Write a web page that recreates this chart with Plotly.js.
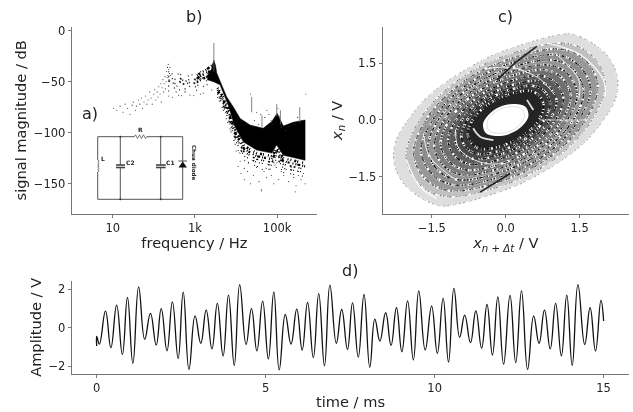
<!DOCTYPE html>
<html><head><meta charset="utf-8">
<script src="https://cdn.plot.ly/plotly-3.0.1.min.js"></script>
<style>html,body{margin:0;padding:0;background:#fff}#plot{width:633px;height:412px;filter:blur(0.45px)}</style>
</head><body><div id="plot"></div>
<script>
// ---- panel d: extrema
const timeMs = [0,0,0.08,0.26,0.42,0.59,0.76,0.91,1.07,1.24,1.42,1.59,1.76,1.91,2.08,2.24,2.41,2.56,2.73,2.91,3.08,3.24,3.41,3.57,3.74,3.90,4.07,4.23,4.42,4.58,4.74,4.91,5.08,5.24,5.40,5.58,5.75,5.92,6.08,6.24,6.41,6.57,6.74,6.90,7.09,7.25,7.42,7.57,7.74,7.91,8.08,8.23,8.38,8.55,8.71,8.87,9.03,9.20,9.37,9.53,9.72,9.91,10.08,10.25,10.41,10.57,10.74,10.89,11.06,11.22,11.39,11.55,11.71,11.87,12.04,12.23,12.40,12.57,12.75,12.93,13.09,13.25,13.42,13.58,13.75,13.91,14.07,14.24,14.44,14.60,14.76,14.92,15.0];
const amplitudeV = [-0.95,-0.45,-0.85,0.87,-1.04,1.18,-1.39,1.58,-1.85,2.13,-0.6,0.75,-0.9,1.0,-1.2,1.35,-1.6,1.85,-2.17,0.62,-0.81,0.92,-1.1,1.27,-1.47,1.7,-1.96,2.25,-0.87,1.0,-1.21,1.39,-1.63,1.87,-2.2,0.69,-0.85,0.97,-1.16,1.32,-1.56,1.78,-1.98,2.22,-0.81,0.95,-1.13,1.3,-1.53,1.73,-2.06,0.45,-0.69,0.78,-0.92,1.04,-1.25,1.4,-1.68,1.92,-1.16,1.13,-1.33,1.53,-1.79,2.05,-0.5,0.66,-0.78,0.88,-1.06,1.21,-1.42,1.61,-1.9,1.68,-1.82,1.92,-2.17,0.62,-0.81,0.92,-1.1,1.27,-1.47,1.7,-1.96,2.25,-0.87,1.04,-1.21,1.42,0.35];

// ---- panel b: solid band of the spectrum (log10 Hz, dB)
const bandLogF  = [3.3,3.4,3.46,3.5,3.53,3.77,3.93,4.1,4.34,4.66,4.87,5.0,5.15,5.39,5.68,5.68,5.15,4.99,4.87,4.5,4.18,3.97,3.81,3.61,3.45,3.3];
const bandDb    = [-44,-38,-29,-34,-41.5,-64.7,-74.5,-86,-92.5,-95.7,-89,-81,-93.4,-89.8,-87.6,-127,-122,-112,-120,-117,-109,-94,-73,-53,-50,-48];
// speckled streaks under the band, one dB list per level
const fringeLogF = [3.55,3.7,3.85,4.0,4.2,4.5,4.87,5.0,5.15,5.68];
const fringeDb1  = [-56,-66,-80,-99,-113,-120,-123,-115,-125,-130];
const fringeDb2  = [-58,-69,-84,-102,-116,-123,-126,-118,-128,-133];
const fringeDb3  = [-60,-72,-87,-105,-119,-126,-129,-121,-131,-136];
const fringeDb4  = [-62,-75,-91,-109,-123,-129,-132,-125,-135,-139];
const fringeDb5  = [-65,-79,-96,-114,-127,-133,-136,-129,-139,-143];
// speckled streaks in the region left of the main peak
const cloudLogF = [2.35,2.5,2.62,2.75,2.9,3.02,3.15,3.28,3.42];
const cloudDb1  = [-40,-44,-42,-46,-43,-44,-40,-38,-35];
const cloudDb2  = [-45,-48,-46,-50,-47,-48,-44,-42,-39];
const cloudDb3  = [-49,-52,-50,-53,-50,-52,-47,-45,-43];
const cloudDb4  = [-54,-56,-53,-57,-54,-55,-51,-49,-47];
const cloudDb5  = [-59,-61,-58,-60,-58,-59,-56,-53,-52];
const cloudDb6  = [-64,-66,-63,-65,-63,-64,-62,-60,-58];
const coreLogF = [3.05,3.15,3.25,3.35,3.45];
const coreDb1  = [-44,-41,-39,-36,-33];
const coreDb2  = [-47,-44,-42,-40,-38];
const coreDb3  = [-50,-48,-46,-44,-43];
// thin vertical spikes: pairs separated by gaps
const spikeLogF = [3.46,3.46,null,4.38,4.38,null,4.63,4.63,null,4.99,4.99,null,5.08,5.08,null,5.55,5.55];
const spikeDb   = [-12,-40,null,-65,-80,null,-83,-95,null,-72,-84,null,-78,-92,null,-75,-90];
// single specks
const speckLogF = [1.02,1.1,1.18,1.25,1.3,1.36,1.42,1.47,1.5,1.55,1.58,1.62,1.66,1.7,1.72,1.76,1.8,1.83,1.86,1.9,1.93,1.96,2.0,2.02,2.05,2.08,2.1,2.12,2.15,2.17,2.18,2.2,2.22,2.24,2.25,2.27,2.28,2.3,2.31,2.32,2.33,2.34,2.35,2.36,2.37,2.38,2.39,2.4,4.0,4.1,4.2,4.3,4.35,4.45,4.5,4.55,4.6,4.7,4.75,4.8,4.85,4.9,4.95,5.02,5.05,5.1,5.2,5.3,5.4,5.5,5.6,5.7,4.05,4.12,4.2,4.28,4.35,4.42,4.5,4.56,4.62,4.68,4.74,4.8,4.86,4.92,4.98,5.04,5.1,5.16,5.22,5.28,5.34,5.4,5.46,5.52,5.58,5.64,5.68,4.62,4.64,5.44,5.52];
const speckDb   = [-76,-78,-74,-80,-72,-76,-82,-73,-70,-78,-74,-68,-72,-66,-76,-70,-64,-72,-68,-60,-66,-72,-62,-58,-68,-60,-65,-55,-62,-52,-70,-56,-48,-60,-52,-45,-57,-50,-40,-46,-36,-44,-33,-38,-48,-42,-36,-44,-118,-128,-135,-130,-62,-88,-80,-92,-82,-85,-78,-82,-88,-92,-85,-76,-84,-95,-98,-94,-92,-85,-88,-62,-133,-140,-146,-138,-150,-142,-134,-148,-156,-138,-144,-136,-142,-150,-134,-146,-138,-142,-136,-148,-134,-144,-152,-138,-146,-140,-150,-157,-136,-158,-142];

// ---- panel c: half of each nested curve of the attractor (the other half mirrors through 0,0)
const ring1X = [1.24,1.51,1.85,2.12,2.27,2.22,1.98,1.65,1.24,0.70,0.16];
const ring1Y = [2.27,2.19,1.94,1.59,1.06,0.53,0,-0.53,-0.97,-1.41,-1.76];
const ringAX = [1.2,1.75,2.02,1.75,1.1,0.18];    const ringAY = [2.02,1.7,0.97,0,-0.92,-1.61];
const ring2X = [1.1,1.62,1.87,1.62,1.02,0.17];   const ring2Y = [1.87,1.57,0.89,0,-0.85,-1.49];
const ringBX = [1.01,1.48,1.72,1.48,0.94,0.16];  const ringBY = [1.72,1.44,0.82,0,-0.78,-1.37];
const ring3X = [0.94,1.37,1.58,1.37,0.86,0.14];  const ring3Y = [1.58,1.33,0.76,0,-0.72,-1.26];
const ringCX = [0.86,1.25,1.45,1.25,0.79,0.13];  const ringCY = [1.45,1.22,0.69,0,-0.66,-1.16];
const ring4X = [0.78,1.14,1.32,1.14,0.72,0.12];  const ring4Y = [1.32,1.11,0.63,0,-0.6,-1.05];
const ringDX = [0.69,1.01,1.17,1.01,0.64,0.11];  const ringDY = [1.17,0.98,0.56,0,-0.53,-0.93];
const ring5X = [0.61,0.89,1.03,0.89,0.56,0.09];  const ring5Y = [1.03,0.87,0.49,0,-0.47,-0.82];
const ringEX = [0.53,0.78,0.9,0.78,0.49,0.08];   const ringEY = [0.9,0.76,0.43,0,-0.41,-0.72];
const ring6X = [0.46,0.67,0.77,0.67,0.42,0.07];  const ring6Y = [0.77,0.65,0.37,0,-0.35,-0.61];
const holeX  = [0.2,0.4,0.46,0.3,0.05];          const holeY  = [0.42,0.35,0.1,-0.2,-0.38];
const innerX = [0.16,0.33,0.38,0.25,0.04];       const innerY = [0.35,0.29,0.08,-0.17,-0.32];
const streakUpX = [-0.18,0.22,0.63]; const streakUpY = [1.05,1.54,1.94];
const streakLoX = [-0.52,0.09]; const streakLoY = [-1.9,-1.41];
// white gaps, each an arc
const gapAX=[0.83,1.51,1.98,2.02]; const gapAY=[2.03,1.72,1.06,0.62];
const gapBX=[-2.01,-1.74,-1.40]; const gapBY=[-1.06,-1.76,-2.07];
const gapCX=[1.0,1.48,1.48]; const gapCY=[1.76,1.06,0.53];
const gapDX=[-1.67,-1.54,-1.0]; const gapDY=[-0.35,-0.97,-1.59];
const gapEX=[0.7,1.65]; const gapEY=[0,0];
const gapFX=[-0.66,-0.52,-0.25]; const gapFY=[-0.22,-0.44,-0.53];
const gapGX=[0.43,0.56]; const gapGY=[0.53,0.26];
const gapHX=[-0.4,0.1,0.65,1.0]; const gapHY=[1.35,1.38,1.12,0.65];
const gapIX=[-1.02,-0.95,-0.5,0.0]; const gapIY=[-0.25,-0.75,-1.12,-1.15];

// ---- tick labels and text
const bTickVals = [10,1000,100000], bTickText = ['10','1k','100k'];
const bDbTicks = [0,-50,-100,-150];
const cTicks = [-1.5,0,1.5];
const dXTicks = [0,5,10,15], dYTicks = [-2,0,2];

const W=633,H=412, px=x=>x/W, py=y=>1-y/H;
const hz = a=>a.map(v=>v===null?null:Math.pow(10,v));
const dashes=['1px,2px,1px,3px,2px,1px,1px,4px','1px,1px,2px,3px,1px,2px,1px,1px,3px,2px','2px,3px,1px,1px,1px,4px,2px,2px','1px,3px,1px,2px,1px,5px,2px,1px','3px,1px,1px,2px,1px,3px,1px,1px,2px,4px'];
const sparse=['1px,3px,1px,6px,1px,2px,1px,8px','1px,5px,1px,2px,1px,9px,1px,4px','1px,7px,1px,3px,1px,5px,1px,11px'];
const closeRing=(X,Y)=>({x:[...X,...X.map(v=>-v),X[0]],y:[...Y,...Y.map(v=>-v),Y[0]]});
const fillRing=(X,Y,col)=>Object.assign(closeRing(X,Y),{type:'scatter',mode:'none',xaxis:'x2',yaxis:'y2',fill:'toself',fillcolor:col,line:{shape:'spline',width:0},hoverinfo:'skip',showlegend:false});
const strokeRing=(X,Y,col,w,d)=>Object.assign(closeRing(X,Y),{type:'scatter',mode:'lines',xaxis:'x2',yaxis:'y2',line:{shape:'spline',width:w,color:col,dash:d},hoverinfo:'skip',showlegend:false});
const gap=(X,Y,w)=>({x:X,y:Y,xaxis:'x2',yaxis:'y2',type:'scatter',mode:'lines',line:{color:'rgba(255,255,255,0.85)',width:w,shape:'spline'},showlegend:false});
const streak=(X,Y,w,d,col)=>({x:hz(X),y:Y,type:'scatter',mode:'lines',line:{color:col||'#000',width:w,dash:d},showlegend:false});

const allRings=[[ring1X,ring1Y],[ringAX,ringAY],[ring2X,ring2Y],[ringBX,ringBY],[ring3X,ring3Y],[ringCX,ringCY],[ring4X,ring4Y],[ringDX,ringDY],[ring5X,ring5Y],[ringEX,ringEY],[ring6X,ring6Y]];
const ringShades=['#dedede','#c0c0c0','#989898','#8c8c8c','#949494','#7c7c7c','#707070','#5c5c5c','#484848','#383838','#242424'];
const ringFills=allRings.map((r,i)=>fillRing(r[0],r[1],ringShades[i]));
const ringSpecks=allRings.flatMap((r,i)=>[
  strokeRing(r[0],r[1],'#fff',i<2?1.6:2.4,dashes[i%5]),
  strokeRing(r[0],r[1],i<1?'#888':i<3?'#444':'#000',i<2?0.8:1.1,dashes[(i+2)%5])]);

const data=[
 streak(cloudLogF,cloudDb1,1.4,sparse[0],'#333'),streak(cloudLogF,cloudDb2,1.6,dashes[3],'#222'),streak(cloudLogF,cloudDb3,1.6,dashes[2],'#222'),
 streak(cloudLogF,cloudDb4,1.5,sparse[1],'#333'),streak(cloudLogF,cloudDb5,1.4,sparse[2],'#444'),streak(cloudLogF,cloudDb6,1.2,sparse[0],'#666'),
 streak(coreLogF,coreDb1,2.4,dashes[1]),streak(coreLogF,coreDb2,2.6,dashes[4]),streak(coreLogF,coreDb3,2.4,dashes[0]),
 streak(fringeLogF,fringeDb1,2.6,dashes[0]),streak(fringeLogF,fringeDb2,2.2,dashes[1]),streak(fringeLogF,fringeDb3,1.6,dashes[2]),
 streak(fringeLogF,fringeDb4,1.2,dashes[3]),streak(fringeLogF,fringeDb5,1,sparse[0]),
 {x:hz(bandLogF),y:bandDb,type:'scatter',mode:'lines',fill:'toself',fillcolor:'#000',line:{color:'#000',width:0.5},showlegend:false},
 {x:hz(speckLogF),y:speckDb,type:'scatter',mode:'markers',marker:{size:1.1,color:'#333'},showlegend:false},
 {x:hz(spikeLogF),y:spikeDb,type:'scatter',mode:'lines',line:{color:'#666',width:0.8},connectgaps:false,showlegend:false},

 ...ringFills,...ringSpecks,
 fillRing(holeX,holeY,'#fff'),
 Object.assign(closeRing(innerX,innerY),{type:'scatter',mode:'lines',xaxis:'x2',yaxis:'y2',line:{shape:'spline',width:0.6,color:'#ccc'},showlegend:false}),
 gap(gapAX,gapAY,1.4),gap(gapBX,gapBY,1.4),gap(gapCX,gapCY,1),gap(gapDX,gapDY,1),gap(gapEX,gapEY,0.8),
 gap(gapFX,gapFY,1.8),gap(gapGX,gapGY,1.8),gap(gapHX,gapHY,1),gap(gapIX,gapIY,1),
 {x:streakUpX,y:streakUpY,xaxis:'x2',yaxis:'y2',type:'scatter',mode:'lines',line:{color:'#222',width:1.6},showlegend:false},
 {x:streakLoX,y:streakLoY,xaxis:'x2',yaxis:'y2',type:'scatter',mode:'lines',line:{color:'#222',width:1.6},showlegend:false},

 {x:timeMs,y:amplitudeV,xaxis:'x3',yaxis:'y3',type:'scatter',mode:'lines',line:{color:'#111',width:1.3,shape:'spline',smoothing:1.3},showlegend:false}
];

const axisBase={showgrid:false,zeroline:false,showline:true,linecolor:'#777',linewidth:1,ticks:'outside',ticklen:3,tickcolor:'#777',tickfont:{size:11.5,color:'#222'}};
const tt=(t,s)=>({text:t,font:{size:14.6,color:'#222'},standoff:s});

// circuit schematic in figure pixels
const wire='#555';
const seg=(x0,y0,x1,y1,w,c)=>({type:'line',xref:'paper',yref:'paper',x0:px(x0),y0:py(y0),x1:px(x1),y1:py(y1),line:{color:c||wire,width:w||1}});
const dot=(x,y)=>({type:'circle',xref:'paper',yref:'paper',x0:px(x-1),x1:px(x+1),y0:py(y+1),y1:py(y-1),fillcolor:'#333',line:{width:0}});
const poly=(pts,fill)=>({type:'path',xref:'paper',yref:'paper',path:'M'+pts.map(p=>px(p[0])+','+py(p[1])).join('L')+(fill?'Z':''),fillcolor:fill?'#111':undefined,line:{color:fill?'#111':'#555',width:fill?0:0.8}});
const shapes=[
 seg(97.7,136.7,134.3,136.7),seg(146.7,136.7,182.7,136.7),seg(97.7,199.3,182.7,199.3),
 seg(97.7,136.7,97.7,160),seg(97.7,172,97.7,199.3),
 seg(120.3,136.7,120.3,165),seg(120.3,167.5,120.3,199.3),
 seg(160.7,136.7,160.7,165),seg(160.7,167.5,160.7,199.3),
 seg(182.7,136.7,182.7,199.3),
 seg(116,165,125,165,1.6,'#444'),seg(116,167.5,125,167.5,1.6,'#444'),
 seg(156,165,165.7,165,1.6,'#444'),seg(156,167.5,165.7,167.5,1.6,'#444'),
 seg(178.5,161,187,161,1),
 poly([[182.7,161.5],[178.5,167.5],[187,167.5]],true),
 poly([[134.3,136.7],[135.5,134.8],[137.5,138.6],[139.5,134.8],[141.5,138.6],[143.5,134.8],[145.5,138.6],[146.7,136.7]],false),
 poly([[97.7,160],[99.2,161.2],[97.7,162.4],[99.2,163.6],[97.7,164.8],[99.2,166],[97.7,167.2],[99.2,168.4],[97.7,169.6],[99.2,170.8],[97.7,172]],false),
 dot(120.3,136.7),dot(160.7,136.7),dot(120.3,199.3),dot(160.7,199.3)
];
const note=(t,x,y,s,extra)=>Object.assign({text:t,xref:'paper',yref:'paper',x:px(x),y:py(y),showarrow:false,xanchor:'center',yanchor:'middle',font:{size:s,color:'#222'}},extra||{});
const small={size:6,color:'#222',weight:700};

const layout={
 width:W,height:H,margin:{l:0,r:0,t:0,b:0},paper_bgcolor:'#fff',plot_bgcolor:'rgba(0,0,0,0)',
 font:{family:'DejaVu Sans, sans-serif'},showlegend:false,shapes:shapes,
 xaxis:Object.assign({},axisBase,{domain:[px(71.7),px(317)],anchor:'y',type:'log',range:[0,5.97],tickvals:bTickVals,ticktext:bTickText,title:tt('frequency / Hz',1)}),
 yaxis:Object.assign({},axisBase,{domain:[py(213.7),py(27)],anchor:'x',range:[-179.4,3.6],tickvals:bDbTicks,title:tt('signal magnitude / dB',3)}),
 xaxis2:Object.assign({},axisBase,{domain:[px(382.7),px(629)],anchor:'y2',range:[-2.495,2.5],tickvals:cTicks,tickformat:'.1f',title:tt('<i>x</i><sub><i>n + Δt</i></sub> / V',2)}),
 yaxis2:Object.assign({},axisBase,{domain:[py(213.7),py(27)],anchor:'x2',range:[-2.47,2.45],tickvals:cTicks,tickformat:'.1f',title:tt('<i>x<sub>n</sub></i> / V',2)}),
 xaxis3:Object.assign({},axisBase,{domain:[px(71.7),px(629.3)],anchor:'y3',range:[-0.74,15.76],tickvals:dXTicks,title:tt('time / ms',2)}),
 yaxis3:Object.assign({},axisBase,{domain:[py(374),py(280.7)],anchor:'x3',range:[-2.41,2.45],tickvals:dYTicks,title:tt('Amplitude / V',3)}),
 annotations:[
  note('b)',194,16.7,16),note('c)',505.7,17,16),note('d)',350,270.7,16),note('a)',90,113,16),
  note('R',140,129.5,6,{font:small}),
  note('L',102.7,158,6,{font:small}),
  note('C2',130.7,162.7,6,{font:small}),
  note('C1',170,162.7,6,{font:small}),
  note('Chua diode',193.3,163.3,5.6,{textangle:90,font:{size:5.6,color:'#222',weight:700}})
 ]
};
Plotly.newPlot('plot',data,layout,{staticPlot:true,displayModeBar:false});
</script></body></html>
